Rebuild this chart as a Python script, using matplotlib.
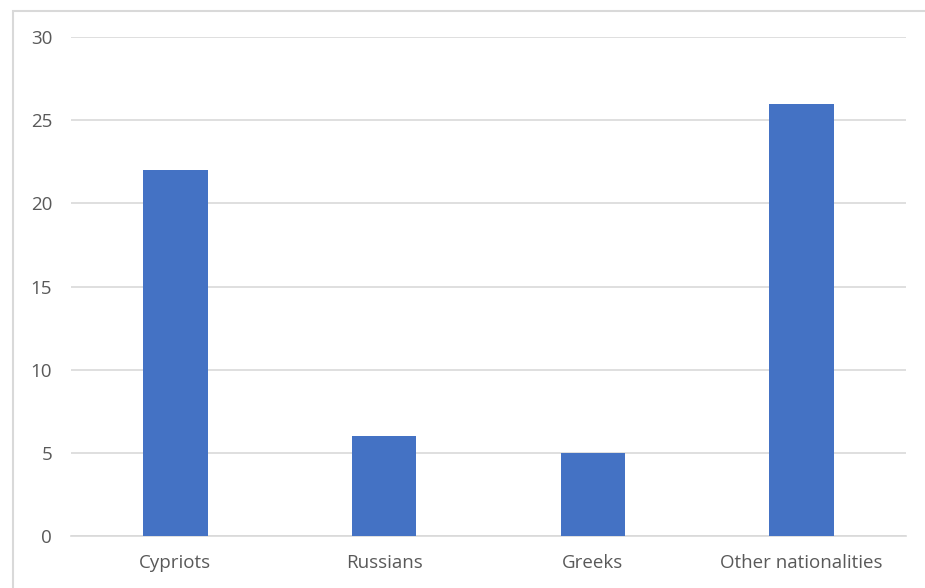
import matplotlib
matplotlib.use("Agg")
import matplotlib.pyplot as plt
from matplotlib.patches import Rectangle

categories = ["Cypriots", "Russians", "Greeks", "Other nationalities"]
values = [22, 6, 5, 26]
yticks = [0, 5, 10, 15, 20, 25, 30]

plt.rcParams['font.family'] = ['Open Sans', 'DejaVu Sans']

fig = plt.figure(figsize=(9.25, 5.88), dpi=100)
fig.patch.set_facecolor('white')

# outer chart frame (cut off at right/bottom)
fig.patches.append(Rectangle((13/925, -0.1), 1.2, 1 - 11/588 + 0.1,
                             transform=fig.transFigure, fill=False,
                             edgecolor='#d9d9d9', linewidth=1.5))

ax = fig.add_axes([71/925, 52/588, 835/925, 499/588])
x = range(len(categories))
ax.bar(x, values, width=0.31, color='#4472C4', zorder=3)
ax.set_xlim(-0.5, len(categories) - 0.5)
ax.set_ylim(0, 30)
ax.set_yticks(yticks)
ax.set_yticklabels([str(t) for t in yticks])
ax.set_xticks(list(x))
ax.set_xticklabels(categories)
ax.grid(axis='y', color='#d9d9d9', linewidth=1.2, zorder=0)
for s in ['top', 'right', 'left']:
    ax.spines[s].set_visible(False)
ax.spines['bottom'].set_color('#d9d9d9')
ax.spines['bottom'].set_linewidth(1.2)
ax.tick_params(axis='both', length=0, labelsize=13.5, labelcolor='#595959')
ax.tick_params(axis='y', pad=13.5)
ax.tick_params(axis='x', pad=13)

fig.savefig('out.png', dpi=100, facecolor='white')
